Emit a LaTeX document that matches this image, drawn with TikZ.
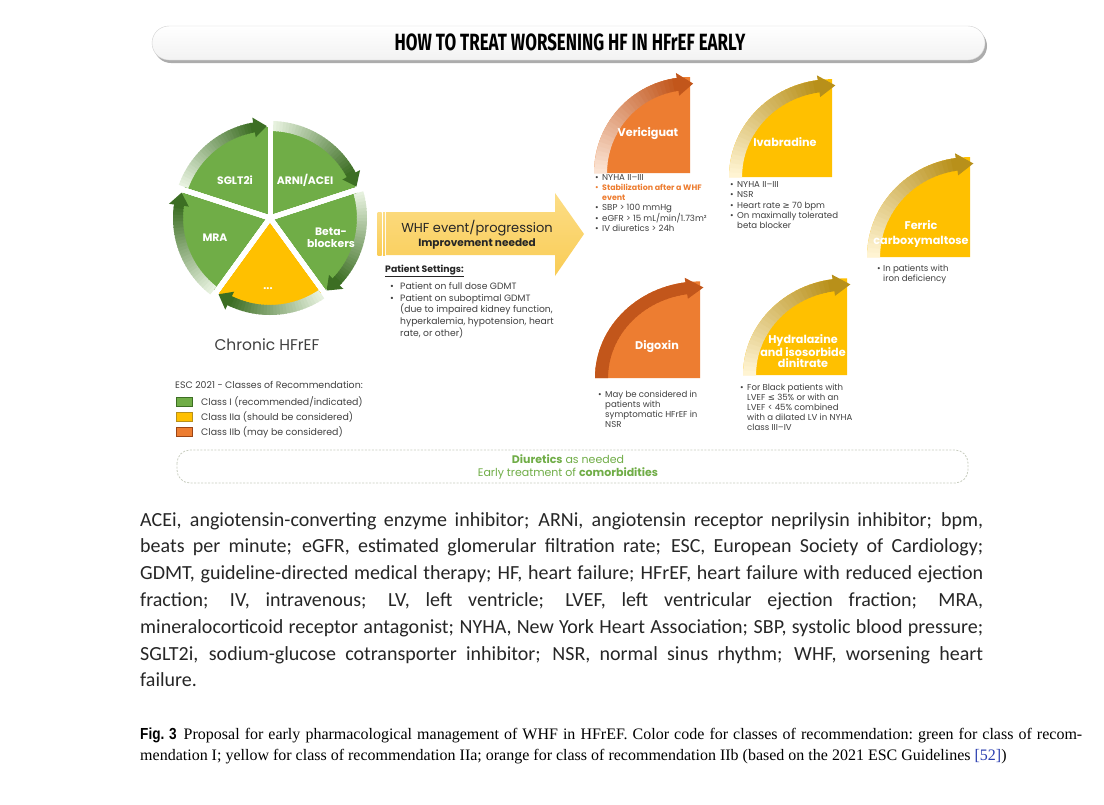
\documentclass[tikz,border=0pt]{standalone}
\usepackage{fontspec}
\setmainfont{Poppins}
\newfontfamily\titlefont{Fira Sans}[FakeStretch=0.72]
\newfontfamily\bodyfont{Carlito}
\newfontfamily\capfont{Liberation Serif}
\newfontfamily\figfont{Liberation Sans}[FakeStretch=0.85]
\newfontfamily\symfont{DejaVu Sans}

\definecolor{cgreen}{HTML}{70AD47}
\definecolor{cgreendk}{HTML}{3C6E23}
\definecolor{cgreenlt}{HTML}{E6F1DE}
\definecolor{cyellow}{HTML}{FFC000}
\definecolor{cgolddk}{HTML}{B8901A}
\definecolor{cgoldlt}{HTML}{FFF4D2}
\definecolor{corange}{HTML}{ED7D31}
\definecolor{corangedk}{HTML}{C2561B}
\definecolor{corangelt}{HTML}{FBE3D3}
\definecolor{cgold}{HTML}{F9CC55}
\definecolor{cgoldtop}{HTML}{FCDD86}
\definecolor{txtgray}{HTML}{404040}
\definecolor{txtdark}{HTML}{262626}
\definecolor{dashgray}{HTML}{C8CDBF}
\definecolor{citeblue}{HTML}{2B3FB0}

\newcommand{\bl}[1][7pt]{\makebox[#1][l]{•}}
\newcommand{\ind}[1][7pt]{\hspace*{#1}}
\newcommand{\jline}[2]{\setbox0\hbox{#2}%
  \ifdim\wd0>#1\resizebox{#1}{\height}{#2}\else\makebox[#1][s]{#2}\fi}

\newcommand{\bandarrow}[7]{%
  \pgfmathsetmacro{\bain}{#1}\pgfmathsetmacro{\baout}{#2}%
  \pgfmathsetmacro{\bafrom}{#3}\pgfmathsetmacro{\bato}{#4}\pgfmathsetmacro{\batip}{#5}%
  \foreach \k in {0,...,29}{%
    \pgfmathsetmacro{\bsa}{\bafrom+(\bato-\bafrom)*\k/30}%
    \pgfmathsetmacro{\bea}{\bafrom+(\bato-\bafrom)*(\k+1.3)/30}%
    \pgfmathtruncatemacro{\bpc}{100*\k/29}%
    \fill[#7!\bpc!#6] (\bsa:\bain) arc[start angle=\bsa,end angle=\bea,radius=\bain]
      -- (\bea:\baout) arc[start angle=\bea,end angle=\bsa,radius=\baout] -- cycle;
  }%
  \pgfmathsetmacro{\balo}{\bain-5}\pgfmathsetmacro{\bahi}{\baout+5}%
  \pgfmathsetmacro{\bamid}{(\bain+\baout)/2}%
  \fill[#7] (\bato:\balo) -- (\batip:\bamid) -- (\bato:\bahi) -- cycle;
}

\newcommand{\drugshape}[6]{%
  \begin{scope}[shift={#1},yscale=#3]
  \fill[#4] (0,0) -- (-#2,0) arc[start angle=180,end angle=90,radius=#2] -- cycle;
  \pgfmathsetmacro{\drin}{#2-13}%
  \bandarrow{\drin}{#2}{180}{98}{88}{#5}{#6}
  \end{scope}}

\begin{document}
\begin{tikzpicture}[x=1pt,y=1pt]
\tikzstyle{slice}=[text=white,font=\bfseries\fontsize{10.8}{12}\selectfont,align=center]
\tikzstyle{drug}=[text=white,font=\bfseries\fontsize{11.2}{11.4}\selectfont,align=center]
\tikzstyle{notes}=[anchor=north west,inner sep=0pt,align=left,text=txtgray,font=\fontsize{8.6}{9.8}\selectfont]
\tikzstyle{legtext}=[anchor=west,inner sep=0pt,text=txtgray,font=\fontsize{9.4}{10}\selectfont]

\useasboundingbox (0,0) rectangle (1104,-804);
\fill[white] (0,0) rectangle (1104,-804);

% title bar
\fill[gray!65,rounded corners=17pt] (154,-29) rectangle (987,-63);
\draw[gray!35,top color=white,bottom color=gray!10,rounded corners=17pt] (152,-26) rectangle (985,-60);
\node (title) at (570,-42) {\titlefont\bfseries\fontsize{23.5}{25}\selectfont HOW TO TREAT WORSENING HF IN HFrEF EARLY};

% chronic HFrEF wheel
\coordinate (pc) at (270,-218);
\foreach \a/\c in {90/cgreen,18/cgreen,-54/cgreen,-126/cyellow,162/cgreen}
  \fill[\c,shift={(pc)}] (0,0) -- (\a:91) arc[start angle=\a,delta angle=72,radius=91] -- cycle;
\begin{scope}[shift={(pc)}]
\foreach \t in {160,88,16,-56,-128}
  \bandarrow{87}{97}{\t}{\t-60}{\t-68}{cgreenlt}{cgreendk}
\foreach \a in {90,18,-54,-126,162}
  \draw[white,line width=5pt] (0,0) -- (\a:105);
\end{scope}
\node[slice] (sglt) at (235,-180) {SGLT2i};
\node[slice] (arni) at (305,-180) {ARNI/ACEI};
\node[slice] (beta) at (331,-238) {Beta-\\blockers};
\node[slice] (mra) at (215,-238) {MRA};
\node[slice] (other) at (268,-289) {...};
\node[text=txtgray,font=\fontsize{15.5}{17}\selectfont] (chronic) at (267,-345) {Chronic HFrEF};

% WHF arrow
\shade[top color=cgoldtop,bottom color=cgold] (386,-212) -- (555,-212) -- (555,-193) -- (584,-234)
  -- (555,-276) -- (555,-255) -- (386,-255) -- cycle;
\shade[top color=cgoldtop,bottom color=cgold] (377.5,-212) rectangle (381.5,-255);
\shade[top color=cgoldtop,bottom color=cgold] (383,-212) rectangle (385,-255);
\node[text=txtdark,font=\fontsize{13}{14}\selectfont] (whf) at (477,-228) {WHF event/progression};
\node[text=txtdark,font=\bfseries\fontsize{10.5}{12}\selectfont] (need) at (477,-244) {Improvement needed};
\node[anchor=west,inner sep=0pt,text=txtdark,font=\bfseries\fontsize{9.3}{10}\selectfont] (pset) at (385,-271) {\underline{Patient Settings:}};
\node[notes,font=\fontsize{9.2}{11.8}\selectfont] (plist) at (390,-282) {\bl[10pt]Patient on full dose GDMT\\
  \bl[10pt]Patient on suboptimal GDMT\\ \ind[10pt](due to impaired kidney function,\\
  \ind[10pt]hyperkalemia, hypotension, heart\\ \ind[10pt]rate, or other)};

% drugs
\drugshape{(690,-173)}{96}{1}{corange}{corangelt}{corangedk}
\drugshape{(832,-177)}{103}{0.95}{cyellow}{cgoldlt}{cgolddk}
\drugshape{(970,-257)}{103}{0.97}{cyellow}{cgoldlt}{cgolddk}
\drugshape{(700,-378)}{105}{0.92}{corange}{corangedk}{corangedk}
\drugshape{(847,-375)}{104}{0.93}{cyellow}{cgoldlt}{cgolddk}
\node[drug] (veri) at (648,-134) {Vericiguat};
\node[drug] (ivab) at (785,-142) {Ivabradine};
\node[drug] (ferric) at (921,-234) {Ferric\\[4pt]carboxymaltose};
\node[drug] (digo) at (657,-347) {Digoxin};
\node[drug] (hydra) at (803,-351) {Hydralazine\\and isosorbide\\dinitrate};

\node[notes] (verilist) at (595,-174.5) {\bl NYHA II–III\\
  \textcolor{corange}{\bl\bfseries\fontsize{7.9}{9.8}\selectfont Stabilization after a WHF}\\
  \ind\textcolor{corange}{\bfseries\fontsize{7.9}{9.8}\selectfont event}\\
  \bl SBP > 100 mmHg\\ \bl eGFR > 15 mL/min/1.73m²\\ \bl IV diuretics > 24h};
\node[notes,font=\fontsize{8.6}{10.2}\selectfont] (ivablist) at (730,-181.5) {\bl NYHA II–III\\ \bl NSR\\
  \bl Heart rate {\symfont ≥} 70 bpm\\ \bl On maximally tolerated\\ \ind beta blocker};
\node[notes,font=\fontsize{8.6}{10}\selectfont] (ferrlist) at (877,-264.5) {\bl[6pt]In patients with\\ \ind[6pt]iron deficiency};
\node[notes,font=\fontsize{8.6}{10}\selectfont] (digolist) at (598,-390.5) {\bl May be considered in\\
  \ind patients with\\ \ind symptomatic HFrEF in\\ \ind NSR};
\node[notes,font=\fontsize{8.6}{10}\selectfont] (hydrlist) at (740,-383.5) {\bl For Black patients with\\
  \ind LVEF {\symfont ≤} 35\% or with an\\ \ind LVEF < 45\% combined\\
  \ind with a dilated LV in NYHA\\ \ind class III–IV};

% legend
\node[legtext] (esc) at (175,-385) {ESC 2021 - Classes of Recommendation:};
\draw[cgreendk,fill=cgreen,line width=0.6pt] (176,-397.5) rectangle (192,-406.5);
\draw[cgolddk,fill=cyellow,line width=0.6pt] (176,-412.5) rectangle (192,-421.5);
\draw[corangedk!80!black,fill=corange,line width=0.6pt] (176,-427.5) rectangle (192,-436.5);
\node[legtext] (cls1) at (201,-402) {Class I (recommended/indicated)};
\node[legtext] (cls2) at (201,-417) {Class IIa (should be considered)};
\node[legtext] (cls3) at (201,-432) {Class IIb (may be considered)};

% bottom note
\draw[dashgray,dash pattern=on 2pt off 1.5pt,line width=0.8pt,rounded corners=13pt] (177,-450) rectangle (968,-483);
\node[text=cgreen,font=\fontsize{11}{12}\selectfont] (diur) at (568,-459) {\textbf{Diuretics} as needed};
\node[text=cgreen,font=\fontsize{11}{12}\selectfont] (comor) at (568,-474) {Early treatment of \textbf{comorbidities}};

% abbreviations
\node[anchor=north west,inner sep=0pt,align=left,text=txtdark,
  font=\bodyfont\fontsize{20}{26.8}\selectfont] (abbr) at (140,-512) {%
  \jline{843pt}{ACEi, angiotensin-converting enzyme inhibitor; ARNi, angiotensin receptor neprilysin inhibitor; bpm,}\\
  \jline{843pt}{beats per minute; eGFR, estimated glomerular filtration rate; ESC, European Society of Cardiology;}\\
  \jline{843pt}{GDMT, guideline-directed medical therapy; HF, heart failure; HFrEF, heart failure with reduced ejection}\\
  \jline{843pt}{fraction; IV, intravenous; LV, left ventricle; LVEF, left ventricular ejection fraction; MRA,}\\
  \jline{843pt}{mineralocorticoid receptor antagonist; NYHA, New York Heart Association; SBP, systolic blood pressure;}\\
  \jline{843pt}{SGLT2i, sodium-glucose cotransporter inhibitor; NSR, normal sinus rhythm; WHF, worsening heart}\\
  failure.};

% caption
\node[anchor=north west,inner sep=0pt,align=left,text=black,
  font=\capfont\frenchspacing\fontsize{16}{21}\selectfont] (cap) at (140,-728) {%
  \jline{942pt}{{\figfont\bfseries Fig. 3}\hspace{7pt}Proposal for early pharmacological management of WHF in HFrEF. Color code for classes of recommendation: green for class of recom-}\\
  mendation I; yellow for class of recommendation IIa; orange for class of recommendation IIb (based on the 2021 ESC Guidelines \textcolor{citeblue}{[52]})};
\end{tikzpicture}
\end{document}
